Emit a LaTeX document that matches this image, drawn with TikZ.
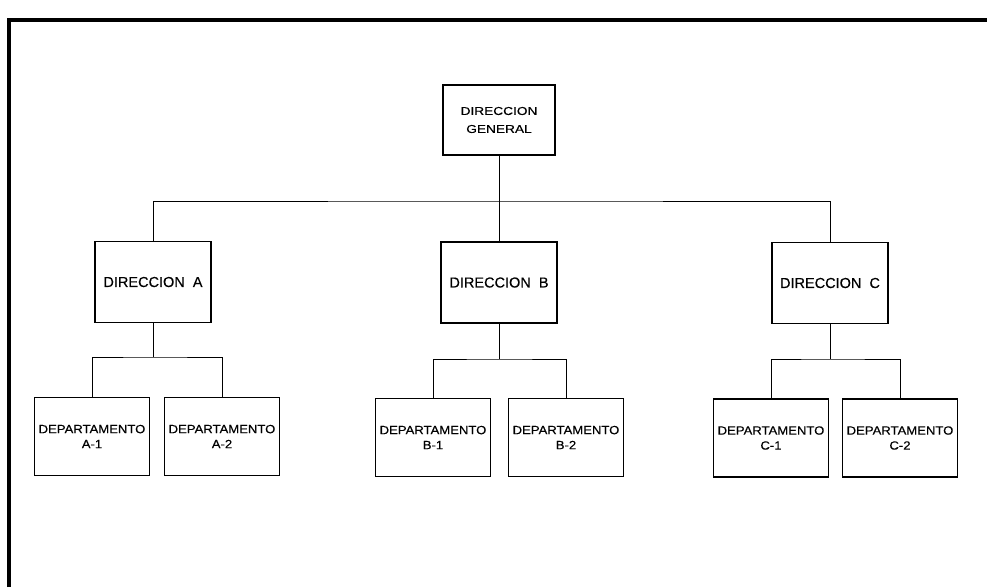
\documentclass[tikz,border=0pt]{standalone}
\usepackage{fontspec}
\setmainfont[FakeBold=0.4]{Liberation Sans}
\newfontfamily\widefont[FakeStretch=1.2,FakeBold=0.4]{Liberation Sans}
\newfontfamily\deptfont[FakeStretch=1.1,FakeBold=0.4]{Liberation Sans}
\newfontfamily\dirfont[FakeBold=0.4]{Liberation Sans}
\begin{document}
\begin{tikzpicture}[x=1pt,y=-1pt,
  box/.style={draw,line width=1.4pt,inner sep=0pt,align=center,anchor=center},
  topbox/.style={box,minimum width=112pt,minimum height=70pt,
    font=\widefont\fontsize{11.4}{18}\selectfont},
  dirbox/.style={box,minimum width=116pt,minimum height=81pt,
    font=\dirfont\fontsize{14.5}{17}\selectfont},
  deptbox/.style={box,minimum width=115pt,minimum height=78pt,
    font=\deptfont\fontsize{11.9}{15}\selectfont},
  link/.style={line width=1pt}]
  \useasboundingbox (0,0) rectangle (987,587);
  % outer frame (top and left edges only)
  \draw[line width=4pt] (9,587) -- (9,20) -- (987,20);

  % general direction
  \node[topbox] (dg) at (499,120) {DIRECCION\\GENERAL};

  % directions
  \node[dirbox] (da) at (153,282) {DIRECCION\ \ A};
  \node[dirbox] (db) at (499,282.5) {DIRECCION\ \ B};
  \node[dirbox] (dc) at (830,283) {DIRECCION\ \ C};

  % departments
  \node[deptbox] (a1) at (92,436.5)  {DEPARTAMENTO\\A-1};
  \node[deptbox] (a2) at (222,436.5) {DEPARTAMENTO\\A-2};
  \node[deptbox] (b1) at (433,437.5) {DEPARTAMENTO\\B-1};
  \node[deptbox] (b2) at (566,437.5) {DEPARTAMENTO\\B-2};
  \node[deptbox] (c1) at (771,438)   {DEPARTAMENTO\\C-1};
  \node[deptbox] (c2) at (900,438)   {DEPARTAMENTO\\C-2};

  % junction points of the buses
  \coordinate (bus) at (499,201);
  \coordinate (sa) at (153,357);
  \coordinate (sb) at (499,359);
  \coordinate (sc) at (830,359);

  % top level connectors
  \draw[link] (dg.south) -- (db.north);
  \draw[link] (da.north) |- (bus) -| (dc.north);

  % department connectors
  \draw[link] (da.south) -- (sa);
  \draw[link] (a1.north) |- (sa) -| (a2.north);
  \draw[link] (db.south) -- (sb);
  \draw[link] (b1.north) |- (sb) -| (b2.north);
  \draw[link] (dc.south) -- (sc);
  \draw[link] (c1.north) |- (sc) -| (c2.north);
\end{tikzpicture}
\end{document}
